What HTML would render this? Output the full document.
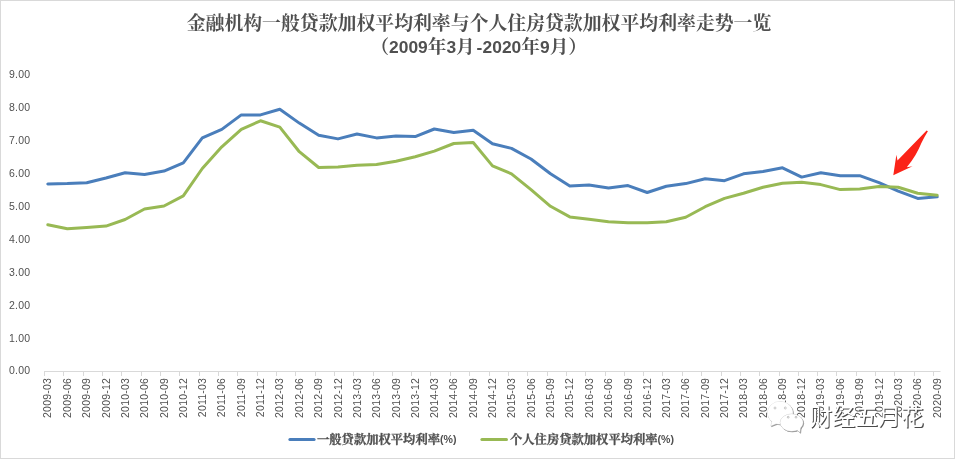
<!DOCTYPE html>
<html lang="zh-CN">
<head>
<meta charset="utf-8">
<title>金融机构一般贷款加权平均利率与个人住房贷款加权平均利率走势一览</title>
<style>
html,body{margin:0;padding:0;background:#fff;}
body{width:955px;height:459px;overflow:hidden;position:relative;font-family:"Liberation Sans","Noto Sans CJK SC",sans-serif;}
#chart{position:absolute;left:0;top:0;width:955px;height:459px;box-sizing:border-box;border:1px solid #d9d9d9;}
svg{position:absolute;left:0;top:0;}
.title{font-family:"Liberation Serif","Noto Serif CJK SC",serif;font-weight:700;fill:#505050;font-size:18.86px;}
.sub{font-family:"Liberation Serif","Noto Serif CJK SC",serif;font-weight:700;fill:#505050;font-size:18.7px;}
.n{font-family:"Liberation Sans",sans-serif;font-size:17.4px;}
.ax{font-family:"Liberation Sans",sans-serif;font-size:10.5px;fill:#505050;}
.lg{font-family:"Liberation Serif","Noto Serif CJK SC",serif;font-weight:700;fill:#505050;stroke:#505050;stroke-width:0.3px;font-size:12.3px;}
.wm{font-family:"Liberation Sans","Noto Sans CJK SC",sans-serif;font-size:22.85px;fill:#fff;font-weight:400;}
</style>
</head>
<body>
<div id="chart"></div>
<svg width="955" height="459" viewBox="0 0 955 459">
<text class="title" x="479" y="30" text-anchor="middle">金融机构一般贷款加权平均利率与个人住房贷款加权平均利率走势一览</text>
<text class="sub" x="478.7" y="53" text-anchor="middle">（<tspan class="n">2009</tspan>年<tspan class="n">3</tspan>月<tspan class="n" dx="1.6">-</tspan><tspan class="n" dx="0.4">2020</tspan>年<tspan class="n">9</tspan>月）</text>
<text class="ax" x="9" y="374.0" style="letter-spacing:0.25px">0.00</text>
<text class="ax" x="9" y="342.0" style="letter-spacing:0.25px">1.00</text>
<text class="ax" x="9" y="309.0" style="letter-spacing:0.25px">2.00</text>
<text class="ax" x="9" y="276.0" style="letter-spacing:0.25px">3.00</text>
<text class="ax" x="9" y="243.0" style="letter-spacing:0.25px">4.00</text>
<text class="ax" x="9" y="210.0" style="letter-spacing:0.25px">5.00</text>
<text class="ax" x="9" y="177.0" style="letter-spacing:0.25px">6.00</text>
<text class="ax" x="9" y="144.0" style="letter-spacing:0.25px">7.00</text>
<text class="ax" x="9" y="111.0" style="letter-spacing:0.25px">8.00</text>
<text class="ax" x="9" y="78.0" style="letter-spacing:0.25px">9.00</text>
<path d="M44 371.5 H940.5" stroke="#d9d9d9" stroke-width="1" fill="none"/>
<path d="M44.5 371.0v5M63.5 371.0v5M83.5 371.0v5M102.5 371.0v5M121.5 371.0v5M141.5 371.0v5M160.5 371.0v5M179.5 371.0v5M199.5 371.0v5M218.5 371.0v5M237.5 371.0v5M257.5 371.0v5M276.5 371.0v5M295.5 371.0v5M315.5 371.0v5M334.5 371.0v5M353.5 371.0v5M373.5 371.0v5M392.5 371.0v5M411.5 371.0v5M430.5 371.0v5M450.5 371.0v5M469.5 371.0v5M489.5 371.0v5M508.5 371.0v5M527.5 371.0v5M547.5 371.0v5M566.5 371.0v5M585.5 371.0v5M605.5 371.0v5M624.5 371.0v5M643.5 371.0v5M662.5 371.0v5M682.5 371.0v5M701.5 371.0v5M721.5 371.0v5M740.5 371.0v5M759.5 371.0v5M779.5 371.0v5M798.5 371.0v5M817.5 371.0v5M836.5 371.0v5M856.5 371.0v5M875.5 371.0v5M894.5 371.0v5M914.5 371.0v5M933.5 371.0v5" stroke="#d9d9d9" stroke-width="1" fill="none"/>
<text class="ax" transform="translate(51.4,378) rotate(-90)" text-anchor="end" style="letter-spacing:0.2px">2009-03</text>
<text class="ax" transform="translate(70.9,378) rotate(-90)" text-anchor="end" style="letter-spacing:0.2px">2009-06</text>
<text class="ax" transform="translate(90.3,378) rotate(-90)" text-anchor="end" style="letter-spacing:0.2px">2009-09</text>
<text class="ax" transform="translate(109.6,378) rotate(-90)" text-anchor="end" style="letter-spacing:0.2px">2009-12</text>
<text class="ax" transform="translate(128.7,378) rotate(-90)" text-anchor="end" style="letter-spacing:0.2px">2010-03</text>
<text class="ax" transform="translate(148.1,378) rotate(-90)" text-anchor="end" style="letter-spacing:0.2px">2010-06</text>
<text class="ax" transform="translate(167.6,378) rotate(-90)" text-anchor="end" style="letter-spacing:0.2px">2010-09</text>
<text class="ax" transform="translate(186.9,378) rotate(-90)" text-anchor="end" style="letter-spacing:0.2px">2010-12</text>
<text class="ax" transform="translate(205.9,378) rotate(-90)" text-anchor="end" style="letter-spacing:0.2px">2011-03</text>
<text class="ax" transform="translate(225.4,378) rotate(-90)" text-anchor="end" style="letter-spacing:0.2px">2011-06</text>
<text class="ax" transform="translate(244.9,378) rotate(-90)" text-anchor="end" style="letter-spacing:0.2px">2011-09</text>
<text class="ax" transform="translate(264.1,378) rotate(-90)" text-anchor="end" style="letter-spacing:0.2px">2011-12</text>
<text class="ax" transform="translate(283.4,378) rotate(-90)" text-anchor="end" style="letter-spacing:0.2px">2012-03</text>
<text class="ax" transform="translate(302.9,378) rotate(-90)" text-anchor="end" style="letter-spacing:0.2px">2012-06</text>
<text class="ax" transform="translate(322.3,378) rotate(-90)" text-anchor="end" style="letter-spacing:0.2px">2012-09</text>
<text class="ax" transform="translate(341.6,378) rotate(-90)" text-anchor="end" style="letter-spacing:0.2px">2012-12</text>
<text class="ax" transform="translate(360.6,378) rotate(-90)" text-anchor="end" style="letter-spacing:0.2px">2013-03</text>
<text class="ax" transform="translate(380.1,378) rotate(-90)" text-anchor="end" style="letter-spacing:0.2px">2013-06</text>
<text class="ax" transform="translate(399.6,378) rotate(-90)" text-anchor="end" style="letter-spacing:0.2px">2013-09</text>
<text class="ax" transform="translate(418.8,378) rotate(-90)" text-anchor="end" style="letter-spacing:0.2px">2013-12</text>
<text class="ax" transform="translate(437.9,378) rotate(-90)" text-anchor="end" style="letter-spacing:0.2px">2014-03</text>
<text class="ax" transform="translate(457.4,378) rotate(-90)" text-anchor="end" style="letter-spacing:0.2px">2014-06</text>
<text class="ax" transform="translate(476.8,378) rotate(-90)" text-anchor="end" style="letter-spacing:0.2px">2014-09</text>
<text class="ax" transform="translate(496.1,378) rotate(-90)" text-anchor="end" style="letter-spacing:0.2px">2014-12</text>
<text class="ax" transform="translate(515.1,378) rotate(-90)" text-anchor="end" style="letter-spacing:0.2px">2015-03</text>
<text class="ax" transform="translate(534.6,378) rotate(-90)" text-anchor="end" style="letter-spacing:0.2px">2015-06</text>
<text class="ax" transform="translate(554.1,378) rotate(-90)" text-anchor="end" style="letter-spacing:0.2px">2015-09</text>
<text class="ax" transform="translate(573.4,378) rotate(-90)" text-anchor="end" style="letter-spacing:0.2px">2015-12</text>
<text class="ax" transform="translate(592.6,378) rotate(-90)" text-anchor="end" style="letter-spacing:0.2px">2016-03</text>
<text class="ax" transform="translate(612.1,378) rotate(-90)" text-anchor="end" style="letter-spacing:0.2px">2016-06</text>
<text class="ax" transform="translate(631.6,378) rotate(-90)" text-anchor="end" style="letter-spacing:0.2px">2016-09</text>
<text class="ax" transform="translate(650.8,378) rotate(-90)" text-anchor="end" style="letter-spacing:0.2px">2016-12</text>
<text class="ax" transform="translate(669.9,378) rotate(-90)" text-anchor="end" style="letter-spacing:0.2px">2017-03</text>
<text class="ax" transform="translate(689.3,378) rotate(-90)" text-anchor="end" style="letter-spacing:0.2px">2017-06</text>
<text class="ax" transform="translate(708.8,378) rotate(-90)" text-anchor="end" style="letter-spacing:0.2px">2017-09</text>
<text class="ax" transform="translate(728.1,378) rotate(-90)" text-anchor="end" style="letter-spacing:0.2px">2017-12</text>
<text class="ax" transform="translate(747.1,378) rotate(-90)" text-anchor="end" style="letter-spacing:0.2px">2018-03</text>
<text class="ax" transform="translate(766.6,378) rotate(-90)" text-anchor="end" style="letter-spacing:0.2px">2018-06</text>
<text class="ax" transform="translate(786.1,378) rotate(-90)" text-anchor="end" style="letter-spacing:0.2px">2018-09</text>
<text class="ax" transform="translate(805.3,378) rotate(-90)" text-anchor="end" style="letter-spacing:0.2px">2018-12</text>
<text class="ax" transform="translate(824.4,378) rotate(-90)" text-anchor="end" style="letter-spacing:0.2px">2019-03</text>
<text class="ax" transform="translate(843.9,378) rotate(-90)" text-anchor="end" style="letter-spacing:0.2px">2019-06</text>
<text class="ax" transform="translate(863.3,378) rotate(-90)" text-anchor="end" style="letter-spacing:0.2px">2019-09</text>
<text class="ax" transform="translate(882.6,378) rotate(-90)" text-anchor="end" style="letter-spacing:0.2px">2019-12</text>
<text class="ax" transform="translate(901.8,378) rotate(-90)" text-anchor="end" style="letter-spacing:0.2px">2020-03</text>
<text class="ax" transform="translate(921.3,378) rotate(-90)" text-anchor="end" style="letter-spacing:0.2px">2020-06</text>
<text class="ax" transform="translate(940.8,378) rotate(-90)" text-anchor="end" style="letter-spacing:0.2px">2020-09</text>
<polyline points="47.8,184.0 67.3,183.6 86.7,182.7 106.0,178.0 125.1,172.8 144.5,174.4 164.0,171.1 183.3,162.9 202.3,137.9 221.8,129.4 241.3,114.9 260.5,114.9 279.8,109.3 299.3,123.1 318.7,135.3 338.0,138.9 357.0,134.0 376.5,137.9 396.0,135.9 415.2,136.6 434.3,129.0 453.8,132.6 473.2,130.3 492.5,143.8 511.5,148.4 531.0,159.0 550.5,173.8 569.8,185.9 589.0,185.0 608.5,187.9 628.0,185.6 647.2,192.5 666.3,186.3 685.7,183.6 705.2,178.7 724.5,180.7 743.5,173.8 763.0,171.5 782.5,167.8 801.7,177.1 820.8,172.8 840.3,175.7 859.7,175.7 879.0,182.7 898.2,191.2 917.7,198.4 937.2,196.8" fill="none" stroke="#4a7ebb" stroke-width="3" stroke-linejoin="round" stroke-linecap="round"/>
<polyline points="47.8,224.8 67.3,228.7 86.7,227.4 106.0,226.1 125.1,219.5 144.5,209.0 164.0,206.0 183.3,195.8 202.3,168.5 221.8,146.8 241.3,129.4 260.5,120.8 279.8,127.1 299.3,151.7 318.7,167.5 338.0,166.9 357.0,165.2 376.5,164.6 396.0,161.3 415.2,156.7 434.3,151.1 453.8,143.5 473.2,142.5 492.5,165.9 511.5,173.8 531.0,189.6 550.5,206.3 569.8,216.9 589.0,219.2 608.5,221.8 628.0,222.8 647.2,222.8 666.3,221.8 685.7,217.2 705.2,206.7 724.5,198.4 743.5,193.2 763.0,187.3 782.5,183.3 801.7,182.3 820.8,184.6 840.3,189.6 859.7,188.9 879.0,186.6 898.2,187.3 917.7,193.2 937.2,195.2" fill="none" stroke="#98b954" stroke-width="3" stroke-linejoin="round" stroke-linecap="round"/>
<path d="M926.6 130.4 L897.5 160.6 L896.4 154.8 L893.3 175.3 L912.5 166.2 L906.8 167.2 L911.6 161 L915.5 155 L918.7 149 L921.4 143 L924.5 137 L927.9 131.2Z" fill="#fb2318"/>
<path d="M289.9 439.5H314.1" stroke="#4a7ebb" stroke-width="3" stroke-linecap="round"/>
<text class="lg" x="317" y="444">一般贷款加权平均利率<tspan style="font-family:'Liberation Sans',sans-serif;font-size:10.6px;font-weight:700;stroke:none" dy="-1.3">(%)</tspan></text>
<path d="M481.9 439.5H506.5" stroke="#98b954" stroke-width="3" stroke-linecap="round"/>
<text class="lg" x="510" y="444">个人住房贷款加权平均利率<tspan style="font-family:'Liberation Sans',sans-serif;font-size:10.6px;font-weight:700;stroke:none" dy="-1.3">(%)</tspan></text>
<g>
<g fill="#8c8c8c" stroke="#8c8c8c" stroke-width="0.6" transform="translate(0.7,0.7)">
<path d="M772.2 420.6L770.8 426L777 423.6Z"/><ellipse cx="780.2" cy="412.9" rx="12.6" ry="11.4"/>
</g>
<g fill="#fff" stroke="#d4d4d4" stroke-width="0.6">
<path d="M772.2 420.6L770.8 426L777 423.6Z"/><ellipse cx="780.2" cy="412.9" rx="12.6" ry="11.4"/>
</g>
<ellipse cx="780.2" cy="412.9" rx="12.3" ry="11.1" fill="#fff"/>
<path d="M772.6 420.4L771.4 425.2L776.6 423.3Z" fill="#fff"/>
<circle cx="775" cy="408" r="1" fill="none" stroke="#aaa" stroke-width="0.6"/><circle cx="785.3" cy="408" r="1" fill="none" stroke="#aaa" stroke-width="0.6"/>
<g fill="#8c8c8c" stroke="#8c8c8c" stroke-width="0.6" transform="translate(0.7,0.7)">
<path d="M796.5 429.6L799.9 432.6L800.6 427.3Z"/><ellipse cx="791.6" cy="422.6" rx="11.4" ry="8.6"/>
</g>
<g fill="#fff" stroke="#c4c4c4" stroke-width="0.6">
<path d="M796.5 429.6L799.9 432.6L800.6 427.3Z"/><ellipse cx="791.6" cy="422.6" rx="11.4" ry="8.6"/>
</g>
<ellipse cx="791.6" cy="422.6" rx="11.1" ry="8.3" fill="#fff"/>
<path d="M796.7 429.2L799.5 431.8L800.2 427.6Z" fill="#fff"/>
<circle cx="788.2" cy="417.2" r="0.9" fill="none" stroke="#999" stroke-width="0.6"/><circle cx="796" cy="417.2" r="0.9" fill="none" stroke="#999" stroke-width="0.6"/>
<g transform="translate(809.4,425.2)">
<text class="wm" x="1.2" y="1.2" style="fill:#4a4a4a">财经五月花</text>
<text class="wm" x="0" y="0">财经五月花</text>
</g>
</g>
</svg>
</body>
</html>
